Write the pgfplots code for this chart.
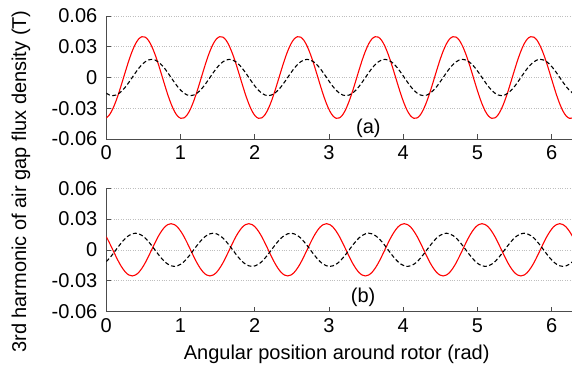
\documentclass[border=0pt]{standalone}
\usepackage{pgfplots}
\pgfplotsset{compat=1.18}
\usepackage{pgfplotstable}
\usepackage{fontspec}
\setmainfont{Liberation Sans}

\pgfplotstableread{
x ar ab br bb
0.0000 -0.0394 -0.0153 0.0128 -0.0115
0.0436 -0.0363 -0.0171 0.0066 -0.0081
0.0873 -0.0306 -0.0177 0 -0.0042
0.1309 -0.0229 -0.0171 -0.0066 0
0.1745 -0.0137 -0.0153 -0.0128 0.0042
0.2182 -0.0035 -0.0125 -0.0180 0.0081
0.2618 0.0069 -0.0089 -0.0221 0.0115
0.3054 0.0169 -0.0046 -0.0246 0.0140
0.3491 0.0257 0 -0.0255 0.0156
0.3927 0.0328 0.0046 -0.0246 0.0162
0.4363 0.0376 0.0089 -0.0221 0.0156
0.4800 0.0398 0.0125 -0.0180 0.0140
0.5236 0.0394 0.0153 -0.0128 0.0115
0.5672 0.0363 0.0171 -0.0066 0.0081
0.6109 0.0306 0.0177 0 0.0042
0.6545 0.0229 0.0171 0.0066 0
0.6981 0.0137 0.0153 0.0128 -0.0042
0.7418 0.0035 0.0125 0.0180 -0.0081
0.7854 -0.0069 0.0089 0.0221 -0.0115
0.8290 -0.0169 0.0046 0.0246 -0.0140
0.8727 -0.0257 0 0.0255 -0.0156
0.9163 -0.0328 -0.0046 0.0246 -0.0162
0.9599 -0.0376 -0.0089 0.0221 -0.0156
1.0036 -0.0398 -0.0125 0.0180 -0.0140
1.0472 -0.0394 -0.0153 0.0128 -0.0115
1.0908 -0.0363 -0.0171 0.0066 -0.0081
1.1345 -0.0306 -0.0177 0 -0.0042
1.1781 -0.0229 -0.0171 -0.0066 0
1.2217 -0.0137 -0.0153 -0.0128 0.0042
1.2654 -0.0035 -0.0125 -0.0180 0.0081
1.3090 0.0069 -0.0089 -0.0221 0.0115
1.3526 0.0169 -0.0046 -0.0246 0.0140
1.3963 0.0257 0 -0.0255 0.0156
1.4399 0.0328 0.0046 -0.0246 0.0162
1.4835 0.0376 0.0089 -0.0221 0.0156
1.5272 0.0398 0.0125 -0.0180 0.0140
1.5708 0.0394 0.0153 -0.0128 0.0115
1.6144 0.0363 0.0171 -0.0066 0.0081
1.6581 0.0306 0.0177 0 0.0042
1.7017 0.0229 0.0171 0.0066 0
1.7453 0.0137 0.0153 0.0128 -0.0042
1.7890 0.0035 0.0125 0.0180 -0.0081
1.8326 -0.0069 0.0089 0.0221 -0.0115
1.8762 -0.0169 0.0046 0.0246 -0.0140
1.9199 -0.0257 0 0.0255 -0.0156
1.9635 -0.0328 -0.0046 0.0246 -0.0162
2.0071 -0.0376 -0.0089 0.0221 -0.0156
2.0508 -0.0398 -0.0125 0.0180 -0.0140
2.0944 -0.0394 -0.0153 0.0128 -0.0115
2.1380 -0.0363 -0.0171 0.0066 -0.0081
2.1817 -0.0306 -0.0177 0 -0.0042
2.2253 -0.0229 -0.0171 -0.0066 0
2.2689 -0.0137 -0.0153 -0.0128 0.0042
2.3126 -0.0035 -0.0125 -0.0180 0.0081
2.3562 0.0069 -0.0089 -0.0221 0.0115
2.3998 0.0169 -0.0046 -0.0246 0.0140
2.4435 0.0257 0 -0.0255 0.0156
2.4871 0.0328 0.0046 -0.0246 0.0162
2.5307 0.0376 0.0089 -0.0221 0.0156
2.5744 0.0398 0.0125 -0.0180 0.0140
2.6180 0.0394 0.0153 -0.0128 0.0115
2.6616 0.0363 0.0171 -0.0066 0.0081
2.7053 0.0306 0.0177 0 0.0042
2.7489 0.0229 0.0171 0.0066 0
2.7925 0.0137 0.0153 0.0128 -0.0042
2.8362 0.0035 0.0125 0.0180 -0.0081
2.8798 -0.0069 0.0089 0.0221 -0.0115
2.9234 -0.0169 0.0046 0.0246 -0.0140
2.9671 -0.0257 0 0.0255 -0.0156
3.0107 -0.0328 -0.0046 0.0246 -0.0162
3.0543 -0.0376 -0.0089 0.0221 -0.0156
3.0980 -0.0398 -0.0125 0.0180 -0.0140
3.1416 -0.0394 -0.0153 0.0128 -0.0115
3.1852 -0.0363 -0.0171 0.0066 -0.0081
3.2289 -0.0306 -0.0177 0 -0.0042
3.2725 -0.0229 -0.0171 -0.0066 0
3.3161 -0.0137 -0.0153 -0.0128 0.0042
3.3598 -0.0035 -0.0125 -0.0180 0.0081
3.4034 0.0069 -0.0089 -0.0221 0.0115
3.4470 0.0169 -0.0046 -0.0246 0.0140
3.4907 0.0257 0 -0.0255 0.0156
3.5343 0.0328 0.0046 -0.0246 0.0162
3.5779 0.0376 0.0089 -0.0221 0.0156
3.6216 0.0398 0.0125 -0.0180 0.0140
3.6652 0.0394 0.0153 -0.0128 0.0115
3.7088 0.0363 0.0171 -0.0066 0.0081
3.7525 0.0306 0.0177 0 0.0042
3.7961 0.0229 0.0171 0.0066 0
3.8397 0.0137 0.0153 0.0128 -0.0042
3.8834 0.0035 0.0125 0.0180 -0.0081
3.9270 -0.0069 0.0089 0.0221 -0.0115
3.9706 -0.0169 0.0046 0.0246 -0.0140
4.0143 -0.0257 0 0.0255 -0.0156
4.0579 -0.0328 -0.0046 0.0246 -0.0162
4.1015 -0.0376 -0.0089 0.0221 -0.0156
4.1452 -0.0398 -0.0125 0.0180 -0.0140
4.1888 -0.0394 -0.0153 0.0128 -0.0115
4.2324 -0.0363 -0.0171 0.0066 -0.0081
4.2761 -0.0306 -0.0177 0 -0.0042
4.3197 -0.0229 -0.0171 -0.0066 0
4.3633 -0.0137 -0.0153 -0.0128 0.0042
4.4070 -0.0035 -0.0125 -0.0180 0.0081
4.4506 0.0069 -0.0089 -0.0221 0.0115
4.4942 0.0169 -0.0046 -0.0246 0.0140
4.5379 0.0257 0 -0.0255 0.0156
4.5815 0.0328 0.0046 -0.0246 0.0162
4.6251 0.0376 0.0089 -0.0221 0.0156
4.6688 0.0398 0.0125 -0.0180 0.0140
4.7124 0.0394 0.0153 -0.0128 0.0115
4.7560 0.0363 0.0171 -0.0066 0.0081
4.7997 0.0306 0.0177 0 0.0042
4.8433 0.0229 0.0171 0.0066 0
4.8869 0.0137 0.0153 0.0128 -0.0042
4.9306 0.0035 0.0125 0.0180 -0.0081
4.9742 -0.0069 0.0089 0.0221 -0.0115
5.0178 -0.0169 0.0046 0.0246 -0.0140
5.0615 -0.0257 0 0.0255 -0.0156
5.1051 -0.0328 -0.0046 0.0246 -0.0162
5.1487 -0.0376 -0.0089 0.0221 -0.0156
5.1924 -0.0398 -0.0125 0.0180 -0.0140
5.2360 -0.0394 -0.0153 0.0128 -0.0115
5.2796 -0.0363 -0.0171 0.0066 -0.0081
5.3233 -0.0306 -0.0177 0 -0.0042
5.3669 -0.0229 -0.0171 -0.0066 0
5.4105 -0.0137 -0.0153 -0.0128 0.0042
5.4542 -0.0035 -0.0125 -0.0180 0.0081
5.4978 0.0069 -0.0089 -0.0221 0.0115
5.5414 0.0169 -0.0046 -0.0246 0.0140
5.5851 0.0257 0 -0.0255 0.0156
5.6287 0.0328 0.0046 -0.0246 0.0162
5.6723 0.0376 0.0089 -0.0221 0.0156
5.7160 0.0398 0.0125 -0.0180 0.0140
5.7596 0.0394 0.0153 -0.0128 0.0115
5.8032 0.0363 0.0171 -0.0066 0.0081
5.8469 0.0306 0.0177 0 0.0042
5.8905 0.0229 0.0171 0.0066 0
5.9341 0.0137 0.0153 0.0128 -0.0042
5.9778 0.0035 0.0125 0.0180 -0.0081
6.0214 -0.0069 0.0089 0.0221 -0.0115
6.0650 -0.0169 0.0046 0.0246 -0.0140
6.1087 -0.0257 0 0.0255 -0.0156
6.1523 -0.0328 -0.0046 0.0246 -0.0162
6.1959 -0.0376 -0.0089 0.0221 -0.0156
6.2396 -0.0398 -0.0125 0.0180 -0.0140
6.2832 -0.0394 -0.0153 0.0128 -0.0115
}\data

\pgfplotsset{
  panel/.style={
    anchor=north west,
    width=466.4pt, height=123pt, scale only axis,
    xmin=0, xmax=6.2832, ymin=-0.06, ymax=0.06,
    axis lines*=left,
    axis line style={black!70, line width=0.6pt},
    tick align=inside,
    major tick length=4.5pt,
    tick style={black!70, line width=0.6pt},
    xtick={0,1,2,3,4,5,6},
    xticklabels={0,1,2,3,4,5,6},
    ytick={-0.06,-0.03,0,0.03,0.06},
    yticklabels={-0.06,-0.03,0,0.03,0.06},
    scaled y ticks=false,
    scaled x ticks=false,
    xticklabel style={yshift=-3.5pt},
    yticklabel style={xshift=-5.5pt},
    ymajorgrids,
    major grid style={dotted, black!25, line width=0.6pt},
  },
  redline/.style={red, line width=1.1pt, smooth},
  blackline/.style={black, line width=1.1pt, dash pattern=on 4pt off 2.5pt, smooth},
}

\begin{document}
\begin{tikzpicture}[font=\fontsize{20}{24}\selectfont]
\path[use as bounding box] (0pt,0pt) rectangle (572pt,-365pt);
\begin{axis}[panel, at={(106.3pt,-16pt)}]
  \addplot[redline] table[x=x, y=ar] {\data};
  \addplot[blackline] table[x=x, y=ab] {\data};
  \node at (axis cs:3.53,-0.0494) {(a)};
\end{axis}
\begin{axis}[panel, at={(106.3pt,-188.3pt)}]
  \addplot[redline] table[x=x, y=br] {\data};
  \addplot[blackline] table[x=x, y=bb] {\data};
  \node at (axis cs:3.46,-0.0466) {(b)};
\end{axis}
\node[rotate=90] at (21pt,-181.5pt) {3rd harmonic of air gap flux density (T)};
\node[anchor=base] at (336.7pt,-359.3pt) {Angular position around rotor (rad)};
\end{tikzpicture}
\end{document}
